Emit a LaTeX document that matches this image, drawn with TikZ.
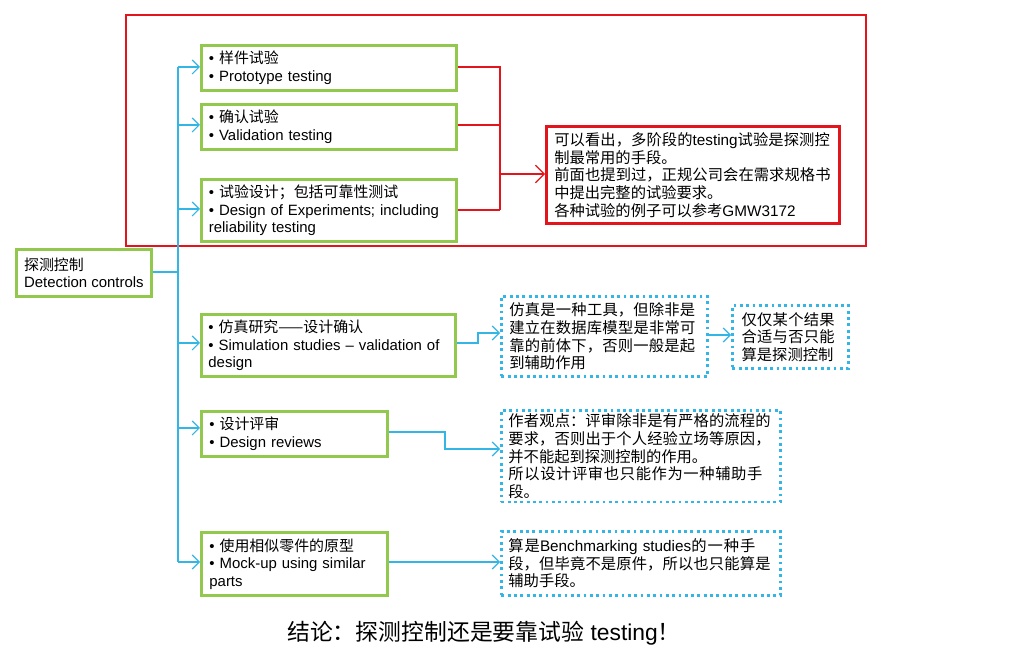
\documentclass[tikz,border=0pt]{standalone}
\usepackage{fontspec}
\setmainfont{Liberation Sans}
\newfontfamily\cjk{Noto Sans CJK SC}
\usetikzlibrary{arrows.meta}
\XeTeXlinebreaklocale "zh"
\XeTeXlinebreakskip=0pt plus 1pt
\hyphenpenalty=10000
\newcommand{\zh}[1]{{\cjk #1}}
\definecolor{boxgreen}{HTML}{92C84E}
\definecolor{linkblue}{HTML}{33B5E5}
\definecolor{alarmred}{HTML}{E3141B}
\tikzset{
  item/.style={draw=boxgreen, line width=1.6pt, anchor=north west, align=left,
    inner xsep=4pt, inner ysep=2pt, font=\fontsize{8.5}{10}\selectfont},
  note/.style={draw=linkblue, line width=1.6pt, dotted, anchor=north west, align=left,
    inner xsep=4pt, inner ysep=2pt, font=\fontsize{8.7}{10}\selectfont},
  bluelink/.style={draw=linkblue, line width=0.7pt, -{Straight Barb[length=4pt,width=8pt]}},
  redlink/.style={draw=alarmred, line width=0.7pt},
}
\begin{document}
\begin{tikzpicture}[x=0.02cm,y=-0.02cm]
  \useasboundingbox (0,0) rectangle (1032,665);
  \draw[alarmred, line width=1.2pt] (126,15) rectangle (866,246);

  % left root
  \node[item, minimum width=2.7cm, minimum height=0.94cm] (dc) at (15,248)
    {\zh{探测控制}\\Detection controls};

  % test boxes
  \node[item, minimum width=5.1cm, minimum height=0.9cm, text width=4.8cm] (proto) at (200,44)
    {\textbullet\ \zh{样件试验}\\\textbullet\ Prototype testing};
  \node[item, minimum width=5.1cm, minimum height=0.9cm, text width=4.8cm] (valid) at (200,103)
    {\textbullet\ \zh{确认试验}\\\textbullet\ Validation testing};
  \node[item, minimum width=5.1cm, minimum height=1.24cm, text width=4.8cm] (doe) at (200,178)
    {\textbullet\ \zh{试验设计；包括可靠性测试}\\\textbullet\ Design of Experiments; including reliability testing};
  \node[item, minimum width=5.08cm, minimum height=1.24cm, text width=4.8cm] (sim) at (200,313)
    {\textbullet\ \zh{仿真研究——设计确认}\\\textbullet\ Simulation studies -- validation of design};
  \node[item, minimum width=3.72cm, minimum height=0.9cm, text width=3.4cm] (rev) at (200,410)
    {\textbullet\ \zh{设计评审}\\\textbullet\ Design reviews};
  \node[item, minimum width=3.72cm, minimum height=1.26cm, text width=3.4cm] (mock) at (200,531)
    {\textbullet\ \zh{使用相似零件的原型}\\\textbullet\ Mock-up using similar parts};

  % notes
  \node[draw=alarmred, line width=1.8pt, anchor=north west, align=left, inner xsep=4pt,
    minimum width=5.86cm, minimum height=1.94cm, text width=5.55cm,
    font=\fontsize{8.7}{10}\selectfont] (concl) at (545,125)
    {\zh{可以看出，多阶段的}testing\zh{试验是探测控制最常用的手段。}\\\zh{前面也提到过，正规公司会在需求规格书中提出完整的试验要求。}\\\zh{各种试验的例子可以参考}GMW3172};
  \node[note, minimum width=4.12cm, minimum height=1.6cm, text width=3.8cm] (simnote) at (500,295)
    {\zh{仿真是一种工具，但除非是建立在数据库模型是非常可靠的前体下，否则一般是起到辅助作用}};
  \node[note, minimum width=2.32cm, minimum height=1.26cm, text width=1.95cm] (only) at (731,304)
    {\zh{仅仅某个结果合适与否只能算是探测控制}};
  \node[note, minimum width=5.48cm, minimum height=1.62cm, text width=5.3cm] (revnote) at (500,409)
    {\zh{作者观点：评审除非是有严格的流程的要求，否则出于个人经验立场等原因，并不能起到探测控制的作用。}\\\zh{所以设计评审也只能作为一种辅助手段。}};
  \node[note, minimum width=5.48cm, minimum height=1.28cm, text width=5.3cm] (mocknote) at (500,530)
    {\zh{算是}Benchmarking studies\zh{的一种手段，但毕竟不是原件，所以也只能算是辅助手段。}};

  % blue tree
  \coordinate (trunk) at (178,272);
  \draw[linkblue, line width=0.7pt] (dc.east |- trunk) -- (trunk);
  \draw[linkblue, line width=0.7pt] (178,67) -- (178,562);
  \foreach \nd/\y in {proto/67, valid/125, doe/209, sim/343, rev/428, mock/562}
    \draw[bluelink] (178,\y) -- (\nd.west |- 0,\y);

  \draw[bluelink] (sim.east |- 0,343) -- (478,343) -- (478,333) -- (simnote.west |- 0,333);
  \draw[bluelink] (simnote.east |- 0,335) -- (only.west |- 0,335);
  \draw[bluelink] (rev.east |- 0,432) -- (445,432) -- (445,449) -- (revnote.west |- 0,449);
  \draw[bluelink] (mock.east |- 0,562) -- (mocknote.west |- 0,562);

  % red join
  \draw[redlink] (proto.east |- 0,67) -- (500,67) -- (500,210);
  \draw[redlink] (valid.east |- 0,125) -- (500,125);
  \draw[redlink] (doe.east |- 0,210) -- (500,210);
  \draw[redlink, -{Straight Barb[length=5pt,width=10pt]}] (500,174) -- (concl.west |- 0,174);

  \node[font=\fontsize{13}{15}\selectfont] (sum) at (484,633)
    {\zh{结论：探测控制还是要靠试验} testing\zh{！}};
\end{tikzpicture}
\end{document}
